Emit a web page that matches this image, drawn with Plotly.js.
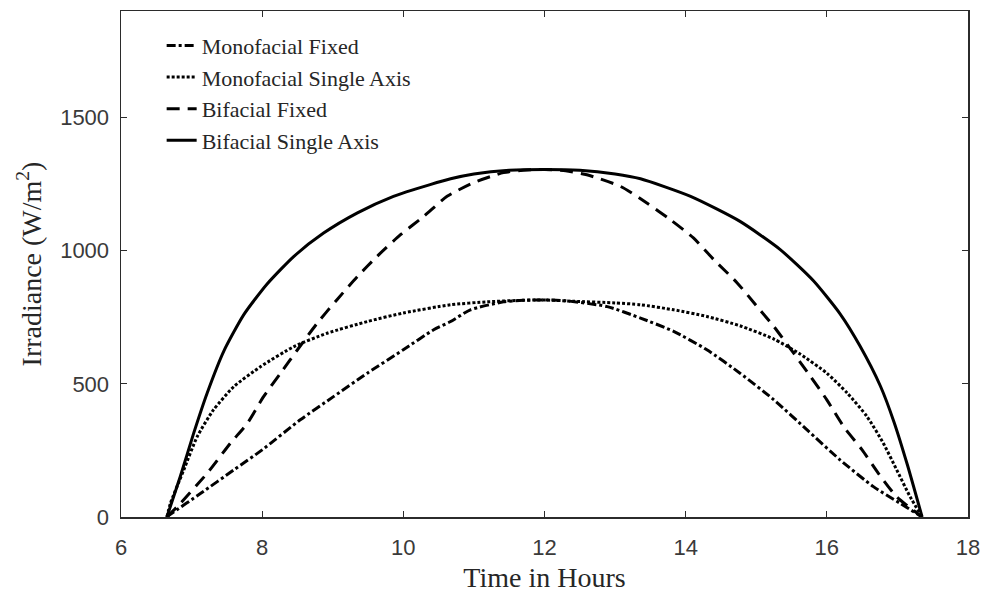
<!DOCTYPE html>
<html>
<head>
<meta charset="utf-8">
<script src="https://cdn.plot.ly/plotly-3.0.1.min.js"></script>
<style>
  html, body { margin: 0; padding: 0; background: #fff; }
  #chart { width: 985px; height: 597px; }
</style>
</head>
<body>
<div id="chart"></div>
<script>
// Series names
const seriesNames = ["Monofacial Fixed", "Monofacial Single Axis", "Bifacial Fixed", "Bifacial Single Axis"];

// Monofacial Fixed (dash-dot)
const monoFixedT = [6.65, 6.70, 7.13, 7.60, 8.00, 8.54, 9.01, 9.49, 10.00, 10.43, 10.67, 10.95, 11.42, 11.70, 12.00, 12.30, 12.89, 13.36, 13.83, 14.30, 14.77, 15.25, 15.72, 16.19, 16.66, 17.04, 17.35];
const monoFixedY = [0, 10, 89, 177, 252, 365, 452, 540, 628, 703, 734, 778, 808, 814, 815, 812, 790, 747, 697, 628, 540, 440, 327, 214, 114, 51, 0];

// Monofacial Single Axis (dotted)
const monoSATT = [6.65, 6.70, 6.89, 7.08, 7.31, 7.60, 7.98, 8.45, 8.92, 9.49, 10.00, 10.67, 11.19, 11.60, 12.00, 12.41, 13.00, 13.36, 13.83, 14.30, 14.77, 15.25, 15.62, 16.00, 16.29, 16.57, 16.80, 16.99, 17.18, 17.35];
const monoSATY = [0, 51, 177, 302, 402, 490, 565, 640, 690, 734, 766, 797, 808, 813, 815, 810, 804, 797, 778, 753, 718, 668, 612, 540, 465, 377, 277, 177, 76, 0];

// Bifacial Fixed (dashed)
const biFixedT = [6.65, 6.84, 7.22, 7.55, 7.79, 8.02, 8.26, 8.50, 8.78, 9.06, 9.35, 9.63, 9.96, 10.29, 10.62, 11.00, 11.42, 11.75, 12.00, 12.30, 12.60, 13.08, 13.45, 13.78, 14.11, 14.40, 14.73, 15.01, 15.25, 15.53, 15.77, 16.00, 16.24, 16.50, 16.73, 16.99, 17.35];
const biFixedY = [0, 51, 164, 277, 352, 452, 540, 628, 728, 816, 903, 979, 1060, 1129, 1204, 1256, 1293, 1303, 1305, 1300, 1285, 1241, 1179, 1117, 1048, 966, 879, 791, 715, 615, 527, 440, 339, 252, 164, 76, 0];

// Bifacial Single Axis (solid)
const biSATT = [6.65, 6.84, 7.03, 7.22, 7.46, 7.74, 8.07, 8.45, 8.87, 9.35, 9.86, 10.38, 10.67, 11.00, 11.50, 12.00, 12.50, 13.00, 13.36, 14.07, 14.77, 15.34, 15.81, 16.19, 16.47, 16.76, 16.95, 17.14, 17.35];
const biSATY = [0, 152, 315, 465, 625, 760, 875, 979, 1066, 1142, 1204, 1248, 1270, 1288, 1302, 1305, 1302, 1288, 1270, 1204, 1110, 1004, 887, 762, 642, 491, 358, 197, 0];

// Axis ticks
const xTicks = [6, 8, 10, 12, 14, 16, 18];
const yTicks = [0, 500, 1000, 1500];

const lineColor = "#000000";
const traces = [
  {x: monoFixedT, y: monoFixedY, name: seriesNames[0], dash: "9px,3px,3px,3px"},
  {x: monoSATT, y: monoSATY, name: seriesNames[1], dash: "3px,2px"},
  {x: biFixedT, y: biFixedY, name: seriesNames[2], dash: "13px,8px"},
  {x: biSATT, y: biSATY, name: seriesNames[3], dash: "solid"}
].map(s => ({
  x: s.x, y: s.y, name: s.name, type: "scatter", mode: "lines",
  line: {color: lineColor, width: 3, dash: s.dash, shape: "spline", smoothing: 0.6},
  hoverinfo: "skip"
}));

const axisCommon = {
  showgrid: false, zeroline: false,
  showline: true, linecolor: "#2b2b2b", linewidth: 1.5,
  mirror: "ticks", ticks: "inside", ticklen: 6, tickwidth: 1.2, tickcolor: "#2b2b2b",
  tickfont: {family: "Liberation Sans, Arial, sans-serif", size: 22, color: "#3a3a3a"}
};

const layout = {
  width: 985, height: 597,
  margin: {l: 121, r: 17, t: 11, b: 80},
  paper_bgcolor: "#ffffff", plot_bgcolor: "#ffffff",
  showlegend: true,
  legend: {
    x: 0.048, y: 0.973, xanchor: "left", yanchor: "top",
    bgcolor: "rgba(0,0,0,0)", borderwidth: 0,
    font: {family: "Liberation Serif, Times New Roman, serif", size: 22, color: "#262626"},
    tracegroupgap: 0
  },
  xaxis: Object.assign({}, axisCommon, {
    range: [6, 18], tickvals: xTicks, ticktext: xTicks.map(String),
    ticklabelstandoff: 10,
    title: {text: "Time in Hours", standoff: 8,
      font: {family: "Liberation Serif, Times New Roman, serif", size: 28, color: "#262626"}}
  }),
  yaxis: Object.assign({}, axisCommon, {
    range: [0, 1900], tickvals: yTicks, ticktext: yTicks.map(String),
    ticklabelstandoff: 6,
    title: {text: "Irradiance (W/m<sup>2</sup>)", standoff: 10,
      font: {family: "Liberation Serif, Times New Roman, serif", size: 28, color: "#262626"}}
  })
};

Plotly.newPlot("chart", traces, layout, {staticPlot: true, displayModeBar: false});
</script>
</body>
</html>
